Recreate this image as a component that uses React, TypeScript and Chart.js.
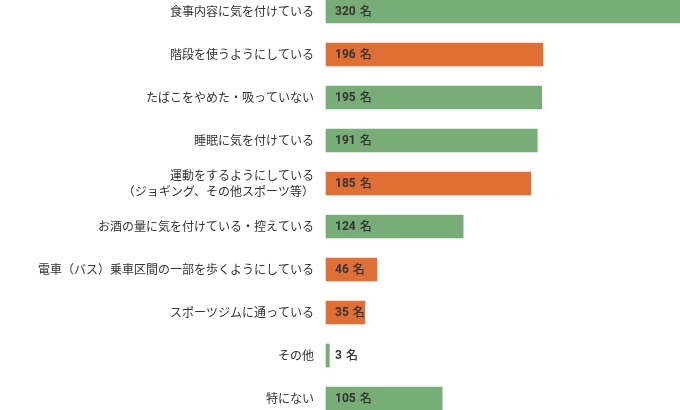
import React, { useEffect, useRef } from "react";
import { Chart, registerables } from "chart.js";

Chart.register(...registerables);

const categories: (string | string[])[] = [
  "食事内容に気を付けている",
  "階段を使うようにしている",
  "たばこをやめた・吸っていない",
  "睡眠に気を付けている",
  ["運動をするようにしている", "（ジョギング、その他スポーツ等）"],
  "お酒の量に気を付けている・控えている",
  "電車（バス）乗車区間の一部を歩くようにしている",
  "スポーツジムに通っている",
  "その他",
  "特にない",
];

const counts = [320, 196, 195, 191, 185, 124, 46, 35, 3, 105];

const GREEN = "#78ad77";
const ORANGE = "#e06f35";
const barColors = [GREEN, ORANGE, GREEN, GREEN, ORANGE, GREEN, ORANGE, ORANGE, GREEN, GREEN];

const unit = "名";

const valueLabelPlugin = {
  id: "valueLabels",
  afterDatasetsDraw(chart: any) {
    const { ctx, chartArea } = chart;
    const meta = chart.getDatasetMeta(0);
    ctx.save();
    ctx.textBaseline = "middle";
    ctx.textAlign = "left";
    meta.data.forEach((bar: any, i: number) => {
      const x = chartArea.left + 9;
      const y = bar.y;
      const num = String(counts[i]);
      ctx.fillStyle = "#333333";
      ctx.font = "bold 12px Roboto, 'Noto Sans', sans-serif";
      ctx.fillText(num, x, y + 0.5);
      const w = ctx.measureText(num).width;
      ctx.font = "500 12px 'Noto Sans CJK JP', sans-serif";
      ctx.fillText(unit, x + w + 4, y);
    });
    ctx.restore();
  },
};

export default function App() {
  const ref = useRef<HTMLCanvasElement | null>(null);
  useEffect(() => {
    if (!ref.current) return;
    const chart = new Chart(ref.current, {
      type: "bar",
      data: {
        labels: categories,
        datasets: [
          {
            data: counts,
            backgroundColor: barColors,
            borderWidth: 0,
            barThickness: 23,
            clip: false as any,
          },
        ],
      },
      options: {
        indexAxis: "y",
        animation: false,
        responsive: true,
        maintainAspectRatio: false,
        layout: { padding: { top: 11.5, bottom: 11.5, left: 0, right: 0 } },
        plugins: { legend: { display: false }, tooltip: { enabled: false } },
        scales: {
          x: { display: false, min: 0, max: 320 },
          y: {
            offset: false,
            grid: { display: false, drawTicks: false },
            border: { display: false },
            ticks: {
              padding: 12,
              color: "#333333",
              font: { family: "'Noto Sans CJK JP', sans-serif", size: 12, lineHeight: 1.4 },
            },
            afterFit: (scale: any) => {
              scale.width = 326;
              scale.paddingTop = 0;
              scale.paddingBottom = 0;
            },
          },
        },
      },
      plugins: [valueLabelPlugin],
    });
    return () => chart.destroy();
  }, []);
  return (
    <div style={{ position: "absolute", left: 0, top: 0, width: 680, height: 410, background: "#fff" }}>
      <canvas ref={ref} />
    </div>
  );
}
